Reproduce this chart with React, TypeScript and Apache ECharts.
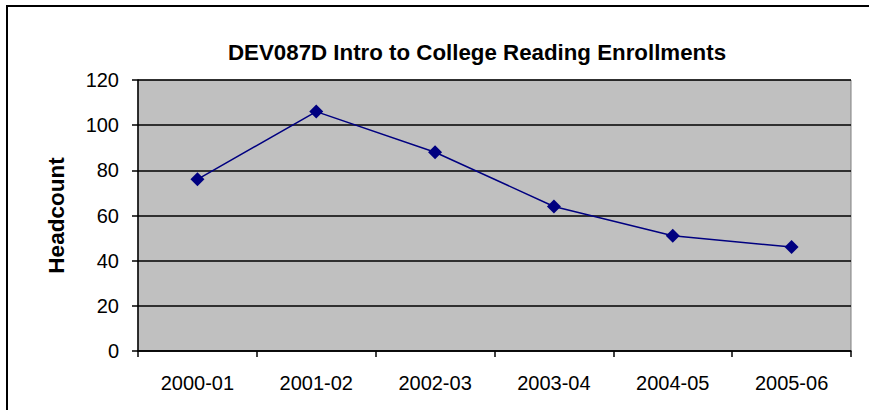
import React, { useEffect, useRef } from "react";
import * as echarts from "echarts";

const categories = ["2000-01", "2001-02", "2002-03", "2003-04", "2004-05", "2005-06"];
const headcount = [76, 106, 88, 64, 51, 46];
const titleText = "DEV087D Intro to College Reading Enrollments";
const yAxisName = "Headcount";

const FONT = "Arial, 'Liberation Sans', sans-serif";

export default function App() {
  const ref = useRef<HTMLDivElement>(null);
  useEffect(() => {
    if (!ref.current) return;
    const chart = echarts.init(ref.current, undefined, { renderer: "svg" });
    chart.setOption({
      animation: false,
      backgroundColor: "#ffffff",
      title: {
        text: titleText,
        left: 472,
        top: 47,
        textAlign: "center",
        textVerticalAlign: "middle",
        textStyle: { fontFamily: FONT, fontSize: 22.3, fontWeight: "bold", color: "#000" },
      },
      graphic: [
        {
          type: "rect",
          shape: { x: 7, y: 6, width: 1000, height: 1000 },
          style: { fill: "none", stroke: "#000", lineWidth: 2 },
          silent: true,
        },
      ],
      grid: {
        left: 138,
        top: 80,
        right: 18,
        bottom: 59,
        show: true,
        backgroundColor: "#C0C0C0",
        borderColor: "#808080",
        borderWidth: 1,
      },
      xAxis: {
        type: "category",
        data: categories,
        boundaryGap: true,
        axisLine: { show: true, lineStyle: { color: "#000", width: 1.5 } },
        axisTick: { show: true, length: 6, alignWithLabel: false, lineStyle: { color: "#000", width: 1.5 } },
        axisLabel: { fontFamily: FONT, fontSize: 20, color: "#000", margin: 22 },
        splitLine: { show: false },
      },
      yAxis: {
        type: "value",
        min: 0,
        max: 120,
        interval: 20,
        name: yAxisName,
        nameLocation: "middle",
        nameRotate: 90,
        nameGap: 70,
        nameTextStyle: { fontFamily: FONT, fontSize: 22.5, fontWeight: "bold", color: "#000" },
        axisLine: { show: true, lineStyle: { color: "#000", width: 1.5 } },
        axisTick: { show: true, length: 6, lineStyle: { color: "#000", width: 1.5 } },
        axisLabel: { fontFamily: FONT, fontSize: 20, color: "#000", margin: 19 },
        splitLine: { show: true, lineStyle: { color: "#000", width: 1.5 } },
      },
      series: [
        {
          type: "line",
          data: headcount,
          symbol: "diamond",
          symbolSize: 14,
          lineStyle: { color: "#000080", width: 1.5 },
          itemStyle: { color: "#000080" },
        },
      ],
    });
    return () => chart.dispose();
  }, []);
  return <div ref={ref} style={{ position: "fixed", left: 0, top: 0, width: 869, height: 410 }} />;
}
